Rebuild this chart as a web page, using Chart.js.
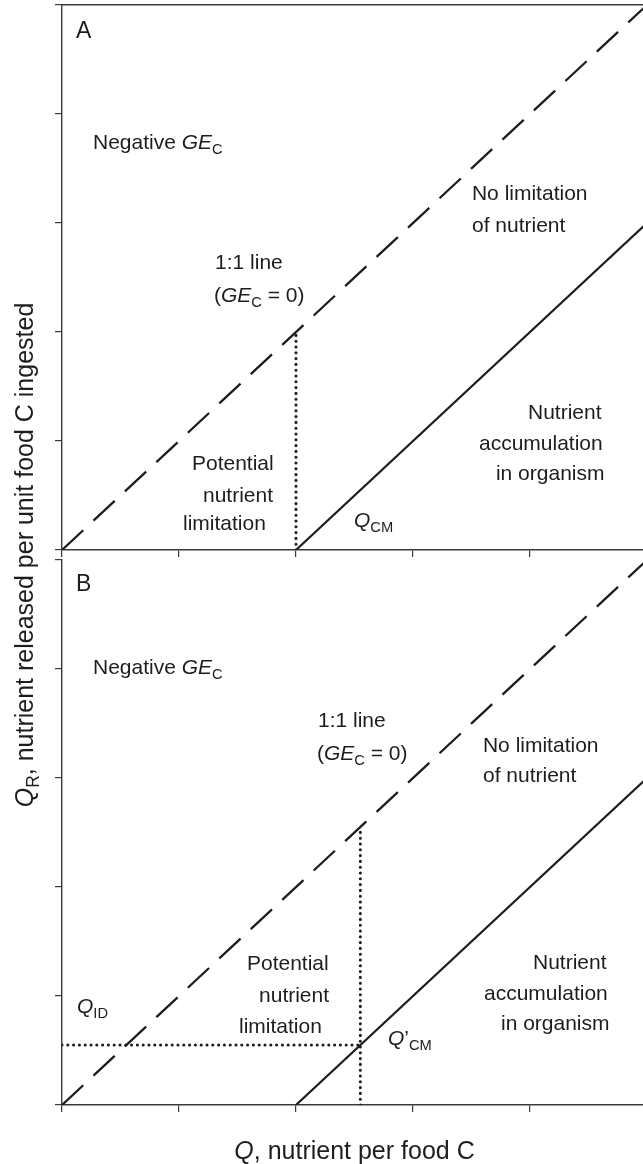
<!DOCTYPE html>
<html>
<head>
<meta charset="utf-8">
<script src="https://cdn.jsdelivr.net/npm/chart.js@4/dist/chart.umd.min.js"></script>
<style>
  html, body { margin: 0; padding: 0; background: #ffffff; }
  #wrap { position: relative; width: 643px; height: 1164px; overflow: hidden; }
  #wrap canvas { position: absolute; left: 0; top: 0; }
</style>
</head>
<body>
<div id="wrap">
  <canvas id="panelB" width="643" height="1164"></canvas>
  <canvas id="panelA" width="643" height="1164"></canvas>
</div>
<script>
// Axis ticks (Q on x, Q_R on y), same for both panels
const qTicks = [0, 1, 2, 3, 4, 5];
const qrTicks = [0, 1, 2, 3, 4, 5];
const qMax = 4.966;
const qrMax = 5;

// 1:1 line (GE_C = 0)
const oneToOneQ = [0, 5];
const oneToOneQR = [0, 5];

// Release line beginning at the threshold ratio Q_CM
const releaseQ = [2, 5];
const releaseQR = [0, 3];

// Panel A: threshold Q_CM up to the 1:1 line
const thresholdAQ = [2, 2];
const thresholdAQR = [0, 2];

// Panel B: Q'_CM up to the 1:1 line, and the Q_ID level
const thresholdBQ = [2.55, 2.55];
const thresholdBQR = [0, 2.55];
const idLevelQ = [0, 2.55];
const idLevelQR = [0.55, 0.55];

const INK = '#1f1c1d';
const AXIS = '#3a3a3a';
const FAMILY = '"Liberation Sans", Arial, Helvetica, sans-serif';

function pts(xs, ys) { return xs.map((x, i) => ({ x: x, y: ys[i] })); }

function dashedSet(xs, ys) {
  return { data: pts(xs, ys), borderColor: INK, borderWidth: 2.3, borderDash: [29, 14],
           pointRadius: 0, showLine: true, tension: 0, xAxisID: 'x', yAxisID: 'y' };
}
function solidSet(xs, ys) {
  return { data: pts(xs, ys), borderColor: INK, borderWidth: 2.2,
           pointRadius: 0, showLine: true, tension: 0, xAxisID: 'x', yAxisID: 'y' };
}
function dottedSet(xs, ys) {
  return { data: pts(xs, ys), borderColor: INK, borderWidth: 3.1, borderDash: [0, 5.8],
           borderCapStyle: 'round', pointRadius: 0, showLine: true, tension: 0,
           xAxisID: 'x', yAxisID: 'y' };
}

// Text with italic runs and subscripts. parts: [text, kind] with kind n / i / s
function drawRich(ctx, parts, x, baseline, size, align) {
  const fontFor = k => (k === 'i' ? 'italic ' : '') + (k === 's' ? (size * 0.7).toFixed(1) : size) + 'px ' + FAMILY;
  let w = 0;
  parts.forEach(([t, k]) => { ctx.font = fontFor(k); w += ctx.measureText(t).width; });
  let cx = align === 'center' ? x - w / 2 : x;
  ctx.textBaseline = 'alphabetic';
  ctx.textAlign = 'left';
  parts.forEach(([t, k]) => {
    ctx.font = fontFor(k);
    ctx.fillText(t, cx, k === 's' ? baseline + size * 0.22 : baseline);
    cx += ctx.measureText(t).width;
  });
}

// Region labels placed in data coordinates (left edge, vertical centre)
function labelPlugin(labels, extra) {
  return {
    id: 'regionLabels',
    afterDraw(chart) {
      const ctx = chart.ctx;
      const xs = chart.scales.x, ys = chart.scales.y;
      ctx.save();
      ctx.fillStyle = INK;
      labels.forEach(l => {
        const size = l.size || 21;
        const px = xs.getPixelForValue(l.q);
        const py = ys.getPixelForValue(l.qr) + size * 0.34;
        drawRich(ctx, l.parts, px, py, size, 'left');
      });
      if (extra) extra(chart, ctx);
      ctx.restore();
    }
  };
}

function makeScales(topBorder) {
  const grid = { drawOnChartArea: false, drawTicks: true, tickLength: 7, color: AXIS, lineWidth: 1.2 };
  const border = { display: true, color: AXIS, width: 1.4 };
  const s = {
    x: { type: 'linear', position: 'bottom', min: 0, max: qMax, grid: grid, border: border,
         ticks: { display: false },
         afterBuildTicks: sc => { sc.ticks = qTicks.filter(v => v <= qMax).map(v => ({ value: v })); } },
    y: { type: 'linear', position: 'left', min: 0, max: qrMax, grid: grid, border: border,
         ticks: { display: false },
         afterBuildTicks: sc => { sc.ticks = qrTicks.map(v => ({ value: v })); } }
  };
  if (topBorder) {
    s.xTop = { type: 'linear', position: 'top', min: 0, max: qMax, display: true,
               grid: { display: false, drawTicks: false }, border: border, ticks: { display: false } };
  }
  return s;
}

function baseOptions(padding, topBorder) {
  return {
    responsive: false,
    devicePixelRatio: 1,
    animation: false,
    events: [],
    layout: { padding: padding },
    plugins: { legend: { display: false }, tooltip: { enabled: false }, title: { display: false } },
    scales: makeScales(topBorder)
  };
}

const GE_C = [['GE', 'i'], ['C', 's']];

// Panel A
const labelsA = [
  { q: 0.12, qr: 4.77, size: 23, parts: [['A', 'n']] },
  { q: 0.265, qr: 3.743, parts: [['Negative ', 'n']].concat(GE_C) },
  { q: 1.308, qr: 2.642, parts: [['1:1 line', 'n']] },
  { q: 1.299, qr: 2.339, parts: [['(', 'n']].concat(GE_C, [[' = 0)', 'n']]) },
  { q: 3.504, qr: 3.275, parts: [['No limitation', 'n']] },
  { q: 3.504, qr: 2.982, parts: [['of nutrient', 'n']] },
  { q: 3.983, qr: 1.266, parts: [['Nutrient', 'n']] },
  { q: 3.564, qr: 0.982, parts: [['accumulation', 'n']] },
  { q: 3.709, qr: 0.706, parts: [['in organism', 'n']] },
  { q: 1.111, qr: 0.798, parts: [['Potential', 'n']] },
  { q: 1.205, qr: 0.505, parts: [['nutrient', 'n']] },
  { q: 1.034, qr: 0.248, parts: [['limitation', 'n']] },
  { q: 2.496, qr: 0.275, parts: [['Q', 'i'], ['CM', 's']] }
];

new Chart(document.getElementById('panelA'), {
  type: 'scatter',
  data: { datasets: [
    dashedSet(oneToOneQ, oneToOneQR),
    solidSet(releaseQ, releaseQR),
    dottedSet(thresholdAQ, thresholdAQR)
  ] },
  options: baseOptions({ left: 55, top: 5, right: 0, bottom: 607 }, true),
  plugins: [labelPlugin(labelsA)]
});

// Panel B
const labelsB = [
  { q: 0.12, qr: 4.79, size: 23, parts: [['B', 'n']] },
  { q: 0.265, qr: 4.018, parts: [['Negative ', 'n']].concat(GE_C) },
  { q: 2.188, qr: 3.532, parts: [['1:1 line', 'n']] },
  { q: 2.179, qr: 3.229, parts: [['(', 'n']].concat(GE_C, [[' = 0)', 'n']]) },
  { q: 3.598, qr: 3.303, parts: [['No limitation', 'n']] },
  { q: 3.598, qr: 3.028, parts: [['of nutrient', 'n']] },
  { q: 4.026, qr: 1.312, parts: [['Nutrient', 'n']] },
  { q: 3.607, qr: 1.028, parts: [['accumulation', 'n']] },
  { q: 3.752, qr: 0.752, parts: [['in organism', 'n']] },
  { q: 1.581, qr: 1.303, parts: [['Potential', 'n']] },
  { q: 1.684, qr: 1.009, parts: [['nutrient', 'n']] },
  { q: 1.513, qr: 0.725, parts: [['limitation', 'n']] },
  { q: 0.128, qr: 0.908, parts: [['Q', 'i'], ['ID', 's']] },
  { q: 2.786, qr: 0.615, parts: [['Q', 'i'], ['\u2019', 'n'], ['CM', 's']] }
];

// Shared axis titles, drawn with panel B
function axisTitles(chart, ctx) {
  const area = chart.chartArea;
  const size = 25;
  drawRich(ctx, [['Q', 'i'], [', nutrient per food C', 'n']],
           (area.left + area.right) / 2 + 2, area.bottom + 45 + size * 0.34, size, 'center');
  ctx.save();
  ctx.translate(33, 555);
  ctx.rotate(-Math.PI / 2);
  drawRich(ctx, [['Q', 'i'], ['R', 's'], [', nutrient released per unit food C ingested', 'n']],
           0, 0, size, 'center');
  ctx.restore();
}

new Chart(document.getElementById('panelB'), {
  type: 'scatter',
  data: { datasets: [
    dashedSet(oneToOneQ, oneToOneQR),
    solidSet(releaseQ, releaseQR),
    dottedSet(thresholdBQ, thresholdBQR),
    dottedSet(idLevelQ, idLevelQR)
  ] },
  options: baseOptions({ left: 55, top: 560, right: 0, bottom: 52 }, false),
  plugins: [labelPlugin(labelsB, axisTitles)]
});
</script>
</body>
</html>
